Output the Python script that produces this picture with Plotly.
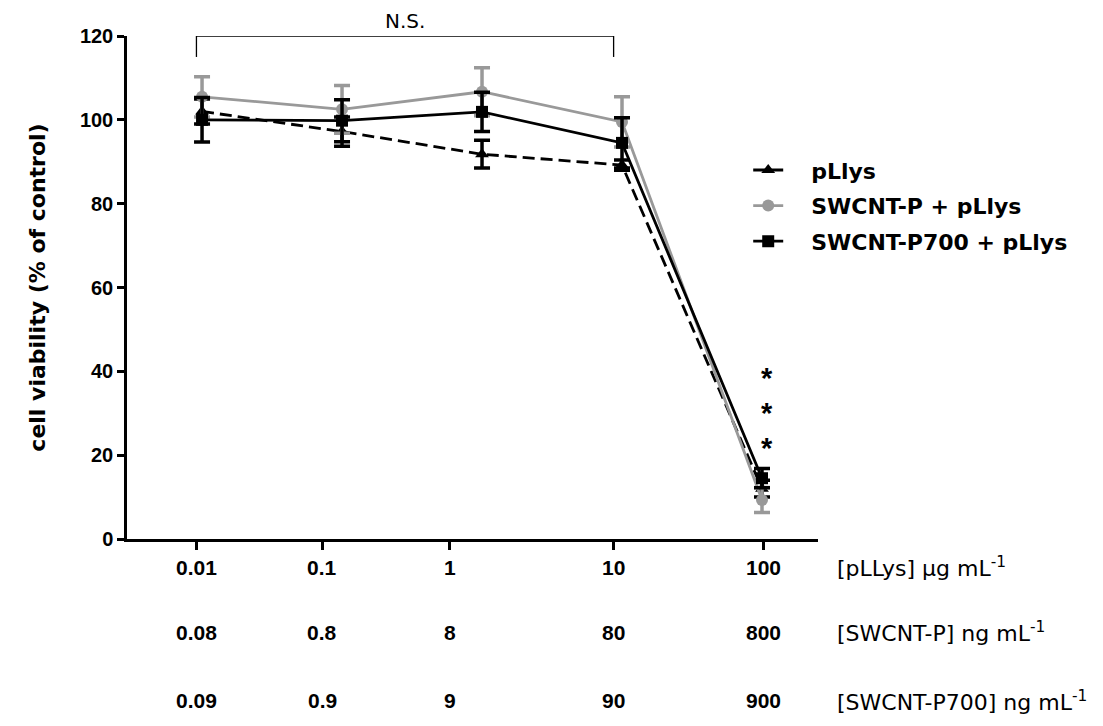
import plotly.graph_objects as go

# ---- data ----
categories = [0, 1, 2, 3, 4]  # evenly spaced dose positions
pllys_conc = ["0.01", "0.1", "1", "10", "100"]
swcntp_conc = ["0.08", "0.8", "8", "80", "800"]
swcntp700_conc = ["0.09", "0.9", "9", "90", "900"]
label_pos = [-0.04, 0.86, 1.77, 2.94, 4.01]

pllys_mean = [102.0, 97.2, 91.8, 89.2, 12.0]
pllys_err = [3.0, 3.5, 3.3, 1.2, 2.0]
swp_mean = [105.5, 102.5, 106.7, 99.5, 9.3]
swp_err = [4.8, 5.7, 5.7, 6.0, 3.0]
swp700_mean = [100.0, 99.8, 101.9, 94.5, 14.5]
swp700_err = [5.3, 5.0, 4.7, 6.0, 2.3]

star_y = [38.4, 30.1, 21.7]
ns_bracket_x = [-0.04, 2.94]

GRAY = "#999999"
NUMFONT = "Liberation Sans, Arial, sans-serif"
WORDFONT = "DejaVu Sans, sans-serif"
PAD = "\u00a0\u00a0\u00a0"

fig = go.Figure()

def add_series(name, y, err, color, symbol, dash, group):
    fig.add_trace(go.Scatter(
        x=categories, y=y, name=PAD + name, mode="lines+markers",
        line=dict(color=color, width=2.8, dash=dash),
        marker=dict(color=color, symbol=symbol, size=12),
        error_y=dict(type="data", array=err, visible=True, color=color,
                     thickness=3.5, width=8),
        legendgroup=group,
    ))

add_series("pLlys", pllys_mean, pllys_err, "black", "triangle-up", "12px,6px", "a")
add_series("SWCNT-P + pLlys", swp_mean, swp_err, GRAY, "circle", "solid", "b")
add_series("SWCNT-P700 + pLlys", swp700_mean, swp700_err, "black", "square", "solid", "c")

annotations = []
rows = [(pllys_conc, -0.0557, "[pLLys] \u03bcg mL<sup>-1</sup>"),
        (swcntp_conc, -0.185, "[SWCNT-P] ng mL<sup>-1</sup>"),
        (swcntp700_conc, -0.322, "[SWCNT-P700] ng mL<sup>-1</sup>")]
for labels, ypos, unit in rows:
    for xp, lab in zip(label_pos, labels):
        annotations.append(dict(x=xp, y=ypos, xref="x", yref="paper", text="<b>%s</b>" % lab,
                                showarrow=False, font=dict(size=21, color="black", family=NUMFONT),
                                xanchor="center", yanchor="middle"))
    annotations.append(dict(x=1.0246, y=ypos, xref="paper", yref="paper", text=unit,
                            showarrow=False, font=dict(size=22, color="black", family=WORDFONT),
                            xanchor="left", yanchor="middle"))

for sy in star_y:
    annotations.append(dict(x=4.036, y=sy, xref="x", yref="y", text="<b>*</b>",
                            showarrow=False, font=dict(size=29, color="black", family=NUMFONT)))

annotations.append(dict(x=sum(ns_bracket_x) / 2, y=120, xref="x", yref="y", text="N.S.",
                        showarrow=False, yanchor="bottom", yshift=1,
                        font=dict(size=20, color="black", family=WORDFONT)))

shapes = [
    dict(type="line", xref="x", yref="y", x0=ns_bracket_x[0], x1=ns_bracket_x[1], y0=120, y1=120,
         line=dict(color="black", width=1.3)),
    dict(type="line", xref="x", yref="y", x0=ns_bracket_x[0], x1=ns_bracket_x[0], y0=120, y1=115,
         line=dict(color="black", width=1.3)),
    dict(type="line", xref="x", yref="y", x0=ns_bracket_x[1], x1=ns_bracket_x[1], y0=120.7, y1=115,
         line=dict(color="black", width=1.3)),
]

fig.update_layout(
    width=1095, height=718,
    margin=dict(l=119, r=285, t=28, b=187),
    paper_bgcolor="white", plot_bgcolor="white",
    font=dict(family=NUMFONT, color="black"),
    showlegend=True,
    legend=dict(x=0.899, y=0.775, xanchor="left", yanchor="top",
                font=dict(size=22, family=WORDFONT, color="black", weight="bold"),
                traceorder="grouped", tracegroupgap=4, itemwidth=30,
                bgcolor="rgba(0,0,0,0)"),
    xaxis=dict(range=[-0.536, 4.4], showgrid=False, zeroline=False, showline=True,
               linecolor="black", linewidth=2.5, ticks="outside", tickvals=label_pos,
               ticklen=8, tickwidth=2.5, tickcolor="black", showticklabels=False),
    yaxis=dict(range=[0, 120], showgrid=False, zeroline=False, showline=True,
               linecolor="black", linewidth=2.5, ticks="outside", ticklen=7, tickwidth=2.5,
               tickcolor="black", tickvals=[0, 20, 40, 60, 80, 100, 120],
               tickfont=dict(size=20, family=NUMFONT, color="black", weight="bold"),
               title=dict(text="<b>cell viability (% of control)</b>", standoff=29,
                          font=dict(size=22, family=WORDFONT, color="black"))),
    annotations=annotations,
    shapes=shapes,
)

fig.write_html("out.html")
